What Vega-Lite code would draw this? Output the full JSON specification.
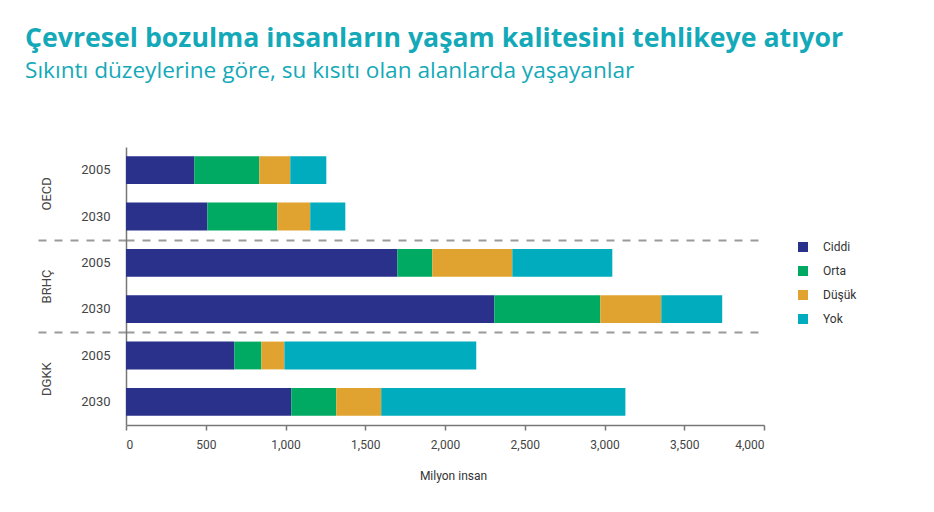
{
  "$schema": "https://vega.github.io/schema/vega-lite/v6.json",
  "width": 638,
  "height": 278,
  "autosize": {"type": "none"},
  "padding": {"left": 126, "top": 147, "right": 170, "bottom": 87},
  "background": "white",
  "title": {
    "text": "Çevresel bozulma insanların yaşam kalitesini tehlikeye atıyor",
    "subtitle": "Sıkıntı düzeylerine göre, su kısıtı olan alanlarda yaşayanlar",
    "anchor": "start",
    "frame": "group",
    "dx": -101,
    "offset": 64,
    "font": "Open Sans",
    "fontSize": 26.7,
    "fontWeight": "bold",
    "color": "#14A9B8",
    "subtitleFont": "Open Sans",
    "subtitleFontSize": 22.6,
    "subtitleFontWeight": "normal",
    "subtitleColor": "#14A9B8",
    "subtitlePadding": 8
  },
  "data": {
    "values": [
      {"grup": "OECD", "satir": "OECD 2005", "duzey": "Ciddi", "sira": 1, "deger": 428},
      {"grup": "OECD", "satir": "OECD 2005", "duzey": "Orta", "sira": 2, "deger": 408},
      {"grup": "OECD", "satir": "OECD 2005", "duzey": "Düşük", "sira": 3, "deger": 194},
      {"grup": "OECD", "satir": "OECD 2005", "duzey": "Yok", "sira": 4, "deger": 226},
      {"grup": "OECD", "satir": "OECD 2030", "duzey": "Ciddi", "sira": 1, "deger": 510},
      {"grup": "OECD", "satir": "OECD 2030", "duzey": "Orta", "sira": 2, "deger": 439},
      {"grup": "OECD", "satir": "OECD 2030", "duzey": "Düşük", "sira": 3, "deger": 206},
      {"grup": "OECD", "satir": "OECD 2030", "duzey": "Yok", "sira": 4, "deger": 220},
      {"grup": "BRHÇ", "satir": "BRHÇ 2005", "duzey": "Ciddi", "sira": 1, "deger": 1701},
      {"grup": "BRHÇ", "satir": "BRHÇ 2005", "duzey": "Orta", "sira": 2, "deger": 219},
      {"grup": "BRHÇ", "satir": "BRHÇ 2005", "duzey": "Düşük", "sira": 3, "deger": 502},
      {"grup": "BRHÇ", "satir": "BRHÇ 2005", "duzey": "Yok", "sira": 4, "deger": 627},
      {"grup": "BRHÇ", "satir": "BRHÇ 2030", "duzey": "Ciddi", "sira": 1, "deger": 2309},
      {"grup": "BRHÇ", "satir": "BRHÇ 2030", "duzey": "Orta", "sira": 2, "deger": 665},
      {"grup": "BRHÇ", "satir": "BRHÇ 2030", "duzey": "Düşük", "sira": 3, "deger": 382},
      {"grup": "BRHÇ", "satir": "BRHÇ 2030", "duzey": "Yok", "sira": 4, "deger": 382},
      {"grup": "DGKK", "satir": "DGKK 2005", "duzey": "Ciddi", "sira": 1, "deger": 679},
      {"grup": "DGKK", "satir": "DGKK 2005", "duzey": "Orta", "sira": 2, "deger": 170},
      {"grup": "DGKK", "satir": "DGKK 2005", "duzey": "Düşük", "sira": 3, "deger": 144},
      {"grup": "DGKK", "satir": "DGKK 2005", "duzey": "Yok", "sira": 4, "deger": 1203},
      {"grup": "DGKK", "satir": "DGKK 2030", "duzey": "Ciddi", "sira": 1, "deger": 1036},
      {"grup": "DGKK", "satir": "DGKK 2030", "duzey": "Orta", "sira": 2, "deger": 282},
      {"grup": "DGKK", "satir": "DGKK 2030", "duzey": "Düşük", "sira": 3, "deger": 282},
      {"grup": "DGKK", "satir": "DGKK 2030", "duzey": "Yok", "sira": 4, "deger": 1531}
    ]
  },
  "layer": [
    {
      "mark": {"type": "rule", "opacity": 0},
      "encoding": {
        "y": {
          "field": "grup",
          "type": "nominal",
          "scale": {"type": "band", "domain": ["OECD", "BRHÇ", "DGKK"], "paddingInner": 0, "paddingOuter": 0},
          "axis": {
            "orient": "left",
            "title": null,
            "domain": false,
            "tickBand": "extent",
            "tickSize": 89,
            "tickDash": [8, 8],
            "tickColor": "#9a9a9a",
            "tickWidth": 2,
            "tickOpacity": {"condition": {"test": "datum.value === 'OECD' || datum.value === 'BRHÇ'", "value": 1}, "value": 0},
            "grid": true,
            "gridDash": [8, 8],
            "gridColor": "#9a9a9a",
            "gridWidth": 2,
            "gridOpacity": {"condition": {"test": "datum.value === 'OECD' || datum.value === 'BRHÇ'", "value": 1}, "value": 0},
            "labelAngle": -90,
            "labelAlign": "center",
            "labelBaseline": "bottom",
            "labelPadding": -16,
            "labelFont": "Roboto",
            "labelFontSize": 13,
            "labelColor": "#444444"
          }
        }
      }
    },
    {
      "mark": {"type": "bar"},
      "encoding": {
        "y": {
          "field": "satir",
          "type": "nominal",
          "sort": ["OECD 2005", "OECD 2030", "BRHÇ 2005", "BRHÇ 2030", "DGKK 2005", "DGKK 2030"],
          "scale": {"paddingInner": 0.4, "paddingOuter": 0.2},
          "axis": {
            "orient": "left",
            "title": null,
            "labelExpr": "split(datum.label, ' ')[1]",
            "ticks": false,
            "domain": true,
            "domainColor": "#777777",
            "domainWidth": 1.5,
            "labelPadding": 16,
            "labelFont": "Roboto",
            "labelFontSize": 13,
            "labelColor": "#444444",
            "grid": false
          }
        },
        "x": {
          "field": "deger",
          "type": "quantitative",
          "stack": "zero",
          "scale": {"domain": [0, 4000], "nice": false},
          "axis": {
            "title": "Milyon insan",
            "values": [0, 500, 1000, 1500, 2000, 2500, 3000, 3500, 4000],
            "format": ",d",
            "grid": false,
            "domainColor": "#777777",
            "domainWidth": 1.5,
            "tickColor": "#777777",
            "tickWidth": 1.5,
            "tickSize": 5,
            "labelPadding": 9,
            "labelFont": "Roboto",
            "labelFontSize": 12,
            "labelColor": "#444444",
            "titleFont": "Roboto",
            "titleFontSize": 12,
            "titleFontWeight": "normal",
            "titleColor": "#333333",
            "titlePadding": 20,
            "titleX": 327
          }
        },
        "order": {"field": "sira", "type": "quantitative", "sort": "ascending"},
        "color": {
          "field": "duzey",
          "type": "nominal",
          "sort": ["Ciddi", "Orta", "Düşük", "Yok"],
          "scale": {"domain": ["Ciddi", "Orta", "Düşük", "Yok"], "range": ["#29318A", "#00AA63", "#E1A330", "#00ACBD"]},
          "legend": {
            "title": null,
            "orient": "none",
            "legendX": 671,
            "legendY": 94,
            "symbolType": "square",
            "symbolSize": 100,
            "symbolStrokeWidth": 0,
            "symbolOpacity": 1,
            "labelFont": "Roboto",
            "labelFontSize": 12,
            "labelColor": "#333333",
            "labelOffset": 14,
            "rowPadding": 12,
            "padding": 0
          }
        }
      }
    }
  ],
  "resolve": {"scale": {"y": "independent"}, "axis": {"y": "independent"}},
  "config": {"view": {"stroke": null}}
}
